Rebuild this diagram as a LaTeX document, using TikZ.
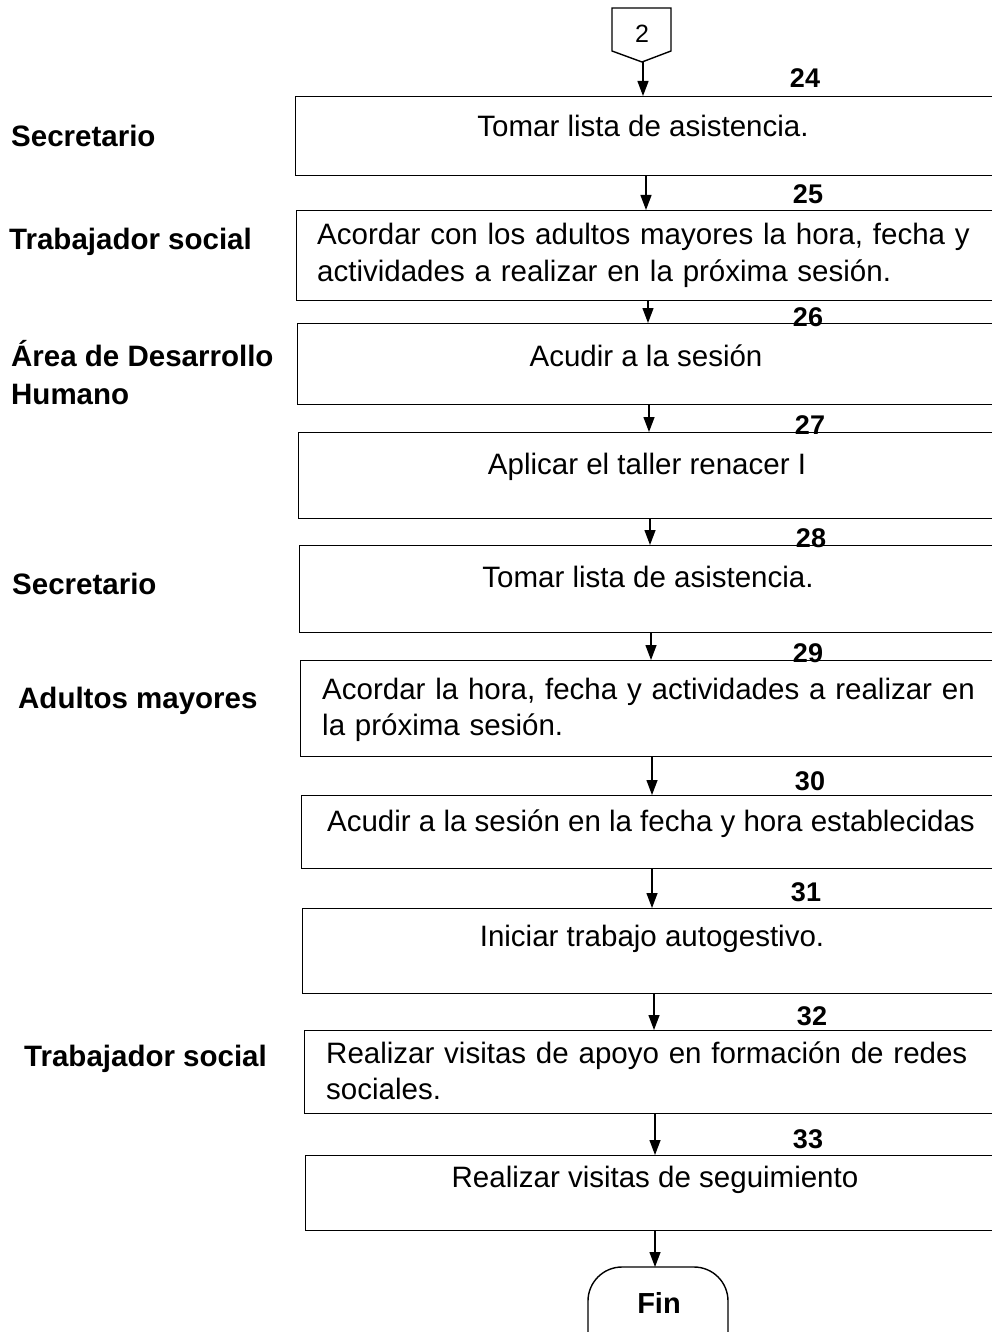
\documentclass[tikz,border=0pt]{standalone}
\usepackage{fontspec}
\setmainfont{Liberation Sans}
\usetikzlibrary{arrows.meta}
\begin{document}
\begin{tikzpicture}[x=1pt,y=-1pt,
  stepbox/.style={draw,line width=1.4pt,anchor=north west,inner sep=0,minimum width=740pt},
  arr/.style={draw,line width=1.3pt,-{Triangle[length=15pt,width=11pt]}},
  lab/.style={anchor=base west,inner sep=0,font=\fontsize{29.5}{36}\selectfont\bfseries},
  txt/.style={anchor=base,inner sep=0,font=\fontsize{29.5}{36}\selectfont},
  txtl/.style={anchor=base west,inner sep=0,align=left,text width=670pt,font=\fontsize{29.5}{36.5}\selectfont},
  num/.style={anchor=base,inner sep=0,font=\fontsize{27}{30}\selectfont\bfseries}]
\useasboundingbox (0,0) rectangle (992,1332);
\clip (0,0) rectangle (992,1332);

% off-page connector
\draw[line width=1.4pt] (612,8) -- (671,8) -- (671,51) -- (642,62) -- (612,51) -- cycle;
\node[inner sep=0,font=\fontsize{25}{28}\selectfont] (c2) at (642,34) {2};
\coordinate (c2tip) at (643,62);

% boxes
\node[stepbox,minimum height=79pt] (b24) at (295,96) {};
\node[stepbox,minimum height=90pt] (b25) at (296,210) {};
\node[stepbox,minimum height=81pt] (b26) at (297,323) {};
\node[stepbox,minimum height=86pt] (b27) at (298,432) {};
\node[stepbox,minimum height=87pt] (b28) at (299,545) {};
\node[stepbox,minimum height=96pt] (b29) at (300,660) {};
\node[stepbox,minimum height=73pt] (b30) at (301,795) {};
\node[stepbox,minimum height=85pt] (b31) at (302,908) {};
\node[stepbox,minimum height=83pt] (b32) at (304,1030) {};
\node[stepbox,minimum height=75pt] (b33) at (305,1155) {};
\draw[line width=1.4pt,rounded corners=34pt] (588,1400) -- (588,1267) -- (728,1267) -- (728,1400);
\node[inner sep=0,anchor=base,font=\fontsize{29}{30}\selectfont\bfseries] (fin) at (659,1313) {Fin};
\coordinate (fintop) at (655,1267);

% box texts
\node[txt] (t24) at (643,137) {Tomar lista de asistencia.};
\node[txtl] (t25) at (317,245) {\makebox[655pt][s]{Acordar con los adultos mayores la hora, fecha y}\\actividades a realizar en la próxima sesión.};
\node[txt] (t26) at (646,366) {Acudir a la sesión};
\node[txt] (t27) at (647,474) {Aplicar el taller renacer I};
\node[txt] (t28) at (648,587) {Tomar lista de asistencia.};
\node[txtl] (t29) at (322,699) {\makebox[656pt][s]{Acordar la hora, fecha y actividades a realizar en}\\la próxima sesión.};
\node[txt] (t30) at (651,831) {Acudir a la sesión en la fecha y hora establecidas};
\node[txt] (t31) at (652,946) {Iniciar trabajo autogestivo.};
\node[txtl] (t32) at (326,1063) {\makebox[654pt][s]{Realizar visitas de apoyo en formación de redes}\\sociales.};
\node[txt] (t33) at (655,1187) {Realizar visitas de seguimiento};

% numbers
\node[num] (n24) at (805,88) {24};
\node[num] (n25) at (808,204) {25};
\node[num] (n26) at (808,326) {26};
\node[num] (n27) at (810,434) {27};
\node[num] (n28) at (811,547) {28};
\node[num] (n29) at (808,662) {29};
\node[num] (n30) at (810,790) {30};
\node[num] (n31) at (806,901) {31};
\node[num] (n32) at (812,1025) {32};
\node[num] (n33) at (808,1148) {33};

% role labels
\node[lab] (l1) at (11,147) {Secretario};
\node[lab] (l2) at (9,250) {Trabajador social};
\node[lab] (l3) at (11,366) {Área de Desarrollo};
\node[lab] (l3b) at (11,404) {Humano};
\node[lab] (l4) at (12,594) {Secretario};
\node[lab] (l5) at (18,708) {Adultos mayores};
\node[lab] (l6) at (24,1066) {Trabajador social};

% connectors
\draw[arr] (c2tip) -- (b24.north -| c2tip);
\draw[arr] (b24.south -| 646,0) -- (b25.north -| 646,0);
\draw[arr] (b25.south -| 648,0) -- (b26.north -| 648,0);
\draw[arr] (b26.south -| 649,0) -- (b27.north -| 649,0);
\draw[arr] (b27.south -| 650,0) -- (b28.north -| 650,0);
\draw[arr] (b28.south -| 651,0) -- (b29.north -| 651,0);
\draw[arr] (b29.south -| 652,0) -- (b30.north -| 652,0);
\draw[arr] (b30.south -| 652,0) -- (b31.north -| 652,0);
\draw[arr] (b31.south -| 654,0) -- (b32.north -| 654,0);
\draw[arr] (b32.south -| 655,0) -- (b33.north -| 655,0);
\draw[arr] (b33.south -| fintop) -- (fintop);
\end{tikzpicture}
\end{document}
